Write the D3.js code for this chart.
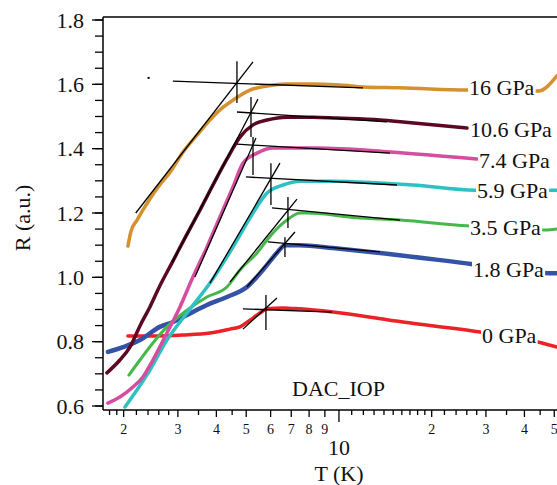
<!DOCTYPE html>
<html>
<head>
<meta charset="utf-8">
<script src="https://cdn.jsdelivr.net/npm/d3@7"></script>
<style>
  body { margin: 0; background: #fff; }
  svg { display: block; font-family: "Liberation Serif", "Times New Roman", serif; }
</style>
</head>
<body>
<svg id="chart" width="557" height="485"></svg>
<script>
// R(T) curves, [T (K), R (a.u.)]
const p0 = [[2.065,0.818],[2.434,0.818],[3.115,0.821],[3.813,0.827],[4.428,0.839],[4.771,0.846],[5.14,0.867],
  [5.54,0.889],[5.838,0.902],[6.579,0.905],[7.469,0.902],[9.56,0.892],[16.14,0.861],[28.7,0.830],[45.61,0.796],[51.0,0.783]]
const p18 = [[1.778,0.768],[1.990,0.783],[2.259,0.805],[2.62,0.846],[2.891,0.861],[3.211,0.883],[3.727,0.914],
  [4.329,0.939],[5.026,0.970],[5.665,1.023],[6.291,1.076],[6.678,1.100],[7.469,1.100],[9.56,1.091],[13.59,1.076],
  [27.2,1.041],[48.07,1.013],[51.0,1.013]]
const p35 = [[2.08,0.696],[2.259,0.743],[2.489,0.796],[2.764,0.846],[3.211,0.898],[3.727,0.939],[4.329,0.970],
  [4.771,1.023],[5.42,1.076],[6.105,1.138],[6.78,1.178],[7.469,1.200],[7.87,1.200],[9.56,1.194],[10.62,1.188],
  [15.78,1.178],[26.04,1.160],[46.65,1.147],[51.0,1.150]]
const p59 = [[2.019,0.597],[2.209,0.650],[2.434,0.712],[2.764,0.805],[3.211,0.889],[3.813,0.982],[4.528,1.094],
  [5.26,1.200],[5.84,1.262],[6.58,1.287],[7.469,1.299],[9.56,1.299],[13.59,1.293],[17.39,1.287],[27.65,1.271],
  [49.55,1.271],[51.0,1.271]]
const p74 = [[1.778,0.609],[1.945,0.628],[2.144,0.659],[2.31,0.690],[2.489,0.743],[2.764,0.827],[3.047,0.908],
  [3.357,1.001],[3.727,1.094],[4.108,1.188],[4.528,1.281],[4.878,1.355],[5.42,1.386],[6.105,1.402],[7.469,1.402],
  [8.48,1.402],[14.64,1.390],[28.06,1.368]]
const p106 = [[1.765,0.703],[1.945,0.743],[2.096,0.783],[2.259,0.849],[2.434,0.908],[2.62,0.973],[2.87,1.045],
  [3.186,1.128],[3.538,1.209],[3.928,1.293],[4.33,1.368],[4.77,1.436],[5.26,1.474],[5.84,1.489],[6.78,1.498],
  [8.23,1.498],[9.85,1.495],[13.59,1.489],[16.14,1.483],[26.04,1.464]]
const p16 = [[2.065,1.097],[2.11,1.141],[2.21,1.178],[2.43,1.243],[2.62,1.287],[2.83,1.327],[3.12,1.390],
  [3.46,1.442],[3.81,1.489],[4.17,1.526],[4.53,1.551],[5.14,1.582],[5.84,1.595],[6.78,1.601],[8.05,1.601],
  [10.07,1.598],[11.97,1.592],[15.78,1.589],[26.0,1.582],[44.3,1.579],[51.0,1.626]]

const pressures = ['0 GPa', '1.8 GPa', '3.5 GPa', '5.9 GPa', '7.4 GPa', '10.6 GPa', '16 GPa']
const curves = [p0, p18, p35, p59, p74, p106, p16]

// kink fits: rising tangent [T1,R1,T2,R2], flat tangent [T1,R1,T2,R2], marker [T, Rlo, Rhi]
const fitRise = [[4.878,0.839,6.291,0.936],[5.026,0.970,7.196,1.141],[4.428,0.985,7.306,1.243],
  [3.813,0.982,6.432,1.355],[3.408,1.001,5.377,1.433],[2.87,1.045,5.458,1.554],[2.19,1.200,5.26,1.670]]
const fitFlat = [[4.878,0.902,9.49,0.892],[5.88,1.110,13.59,1.079],[6.06,1.216,15.78,1.178],
  [4.989,1.312,15.43,1.287],[4.665,1.414,14.64,1.386],[4.665,1.514,14.31,1.483],[2.89,1.610,11.97,1.589]]
const fitMark = [[5.794,0.836,0.945],[6.678,1.063,1.125],[6.83,1.153,1.250],[6.014,1.225,1.355],
  [5.26,1.318,1.436],[5.181,1.436,1.561],[4.665,1.542,1.672]]
const strayPoint = [2.41, 1.620]

const yTicks = [0.6, 0.8, 1.0, 1.2, 1.4, 1.6, 1.8]
const yMinor = d3.range(0.6, 1.8001, 0.05)
const xLabelTicks = [2, 3, 4, 5, 6, 7, 8, 9, 20, 30, 40, 50]
const xMinor = [1.8, 1.9, 2.2, 2.4, 2.6, 2.8, 3.5, 4.5, 11, 12, 13, 14, 15, 16, 17, 18, 19, 22, 24, 26, 28, 35, 45]

// styles / layout
const colors = ['#ec2226', '#3452a6', '#46b84a', '#2fc0c4', '#d64c9e', '#5a0824', '#d4912e']
const widths = [3.5, 4.5, 3, 3.5, 3.5, 3.5, 3.5]
const labelPos = [[482, 343], [473, 277], [470, 235], [477, 198], [479, 168], [470, 137], [469, 95]]

const plot = { left: 103, right: 557, top: 17, bottom: 410 }
const svg = d3.select('#chart')

const x = d3.scaleLog().domain([1.714, 51.03]).range([plot.left, plot.right])
const y = d3.scaleLinear().domain([0.6, 1.8]).range([406, 20])

svg.append('defs').append('clipPath').attr('id', 'clip')
  .append('rect')
  .attr('x', plot.left).attr('y', plot.top)
  .attr('width', plot.right - plot.left).attr('height', plot.bottom - plot.top)

const g = svg.append('g').attr('clip-path', 'url(#clip)')

const line = d3.line()
  .x(d => x(d[0]))
  .y(d => y(d[1]))
  .curve(d3.curveMonotoneX)

g.selectAll('.curve')
  .data(curves)
  .enter()
  .append('path')
  .attr('class', 'curve')
  .attr('d', line)
  .attr('fill', 'none')
  .attr('stroke', (d, i) => colors[i])
  .attr('stroke-width', (d, i) => widths[i])
  .attr('stroke-linejoin', 'round')
  .attr('stroke-linecap', 'round')

// black tangent lines and crossing markers
const fits = g.append('g').attr('stroke', '#000').attr('stroke-width', 1.3)
fits.selectAll('.rise')
  .data(fitRise)
  .enter()
  .append('line')
  .attr('x1', d => x(d[0])).attr('y1', d => y(d[1]))
  .attr('x2', d => x(d[2])).attr('y2', d => y(d[3]))
fits.selectAll('.flat')
  .data(fitFlat)
  .enter()
  .append('line')
  .attr('x1', d => x(d[0])).attr('y1', d => y(d[1]))
  .attr('x2', d => x(d[2])).attr('y2', d => y(d[3]))
fits.selectAll('.mark')
  .data(fitMark)
  .enter()
  .append('line')
  .attr('x1', d => x(d[0])).attr('y1', d => y(d[1]))
  .attr('x2', d => x(d[0])).attr('y2', d => y(d[2]))

g.append('rect')
  .attr('x', x(strayPoint[0]) - 1).attr('y', y(strayPoint[1]) - 1)
  .attr('width', 2).attr('height', 2).attr('fill', '#000')

// pressure tags, white box behind so the curve disappears under them
const tags = svg.append('g')
pressures.forEach((p, i) => {
  const t = tags.append('text')
    .attr('x', labelPos[i][0]).attr('y', labelPos[i][1])
    .style('font-size', '22px')
    .attr('fill', '#111')
    .text(p)
  const b = t.node().getBBox()
  tags.insert('rect', () => t.node())
    .attr('x', b.x - 1).attr('y', b.y + 2)
    .attr('width', b.width + 2).attr('height', b.height - 3)
    .attr('fill', '#fff')
})

svg.append('text')
  .attr('x', 292).attr('y', 396)
  .style('font-size', '22px')
  .attr('fill', '#111')
  .text('DAC_IOP')

// frame
const frame = svg.append('g').attr('stroke', '#000').attr('stroke-width', 1.5)
frame.append('line').attr('x1', plot.left).attr('x2', plot.right + 5).attr('y1', plot.top).attr('y2', plot.top)
frame.append('line').attr('x1', plot.left).attr('x2', plot.left).attr('y1', plot.top).attr('y2', plot.bottom)
frame.append('line').attr('x1', plot.left).attr('x2', plot.right + 5).attr('y1', plot.bottom).attr('y2', plot.bottom)

// y axis
const yAxis = svg.append('g').attr('stroke', '#000').attr('stroke-width', 1.3)
yAxis.selectAll('.ymin')
  .data(yMinor)
  .enter()
  .append('line')
  .attr('x1', plot.left - 8).attr('x2', plot.left)
  .attr('y1', d => y(d)).attr('y2', d => y(d))
yAxis.selectAll('.ymaj')
  .data(yTicks)
  .enter()
  .append('line')
  .attr('x1', plot.left - 11).attr('x2', plot.left)
  .attr('y1', d => y(d)).attr('y2', d => y(d))
svg.selectAll('.ylab')
  .data(yTicks)
  .enter()
  .append('text')
  .attr('x', 84)
  .attr('y', d => y(d) + 7.5)
  .attr('text-anchor', 'end')
  .style('font-size', '22px')
  .attr('fill', '#111')
  .text(d => d3.format('.1f')(d))

svg.append('text')
  .attr('transform', 'translate(30,218) rotate(-90)')
  .attr('text-anchor', 'middle')
  .style('font-size', '22px')
  .attr('fill', '#111')
  .text('R (a.u.)')

// x axis (log)
const xAxis = svg.append('g').attr('stroke', '#000').attr('stroke-width', 1.3)
xAxis.selectAll('.xmin')
  .data(xMinor)
  .enter()
  .append('line')
  .attr('x1', d => x(d)).attr('x2', d => x(d))
  .attr('y1', plot.bottom).attr('y2', plot.bottom + 5)
xAxis.selectAll('.xlt')
  .data(xLabelTicks)
  .enter()
  .append('line')
  .attr('x1', d => x(d)).attr('x2', d => x(d))
  .attr('y1', plot.bottom).attr('y2', plot.bottom + 7)
xAxis.append('line')
  .attr('x1', x(10)).attr('x2', x(10))
  .attr('y1', plot.bottom).attr('y2', plot.bottom + 12)

svg.selectAll('.xlab')
  .data(xLabelTicks)
  .enter()
  .append('text')
  .attr('x', d => x(d))
  .attr('y', 434)
  .attr('text-anchor', 'middle')
  .style('font-size', '14px')
  .attr('fill', '#111')
  .text(d => d >= 10 ? d / 10 : d)

svg.append('text')
  .attr('x', x(10)).attr('y', 455)
  .attr('text-anchor', 'middle')
  .style('font-size', '22px')
  .attr('fill', '#111')
  .text('10')

svg.append('text')
  .attr('x', x(10)).attr('y', 481)
  .attr('text-anchor', 'middle')
  .style('font-size', '22px')
  .attr('fill', '#111')
  .text('T (K)')
</script>
</body>
</html>
